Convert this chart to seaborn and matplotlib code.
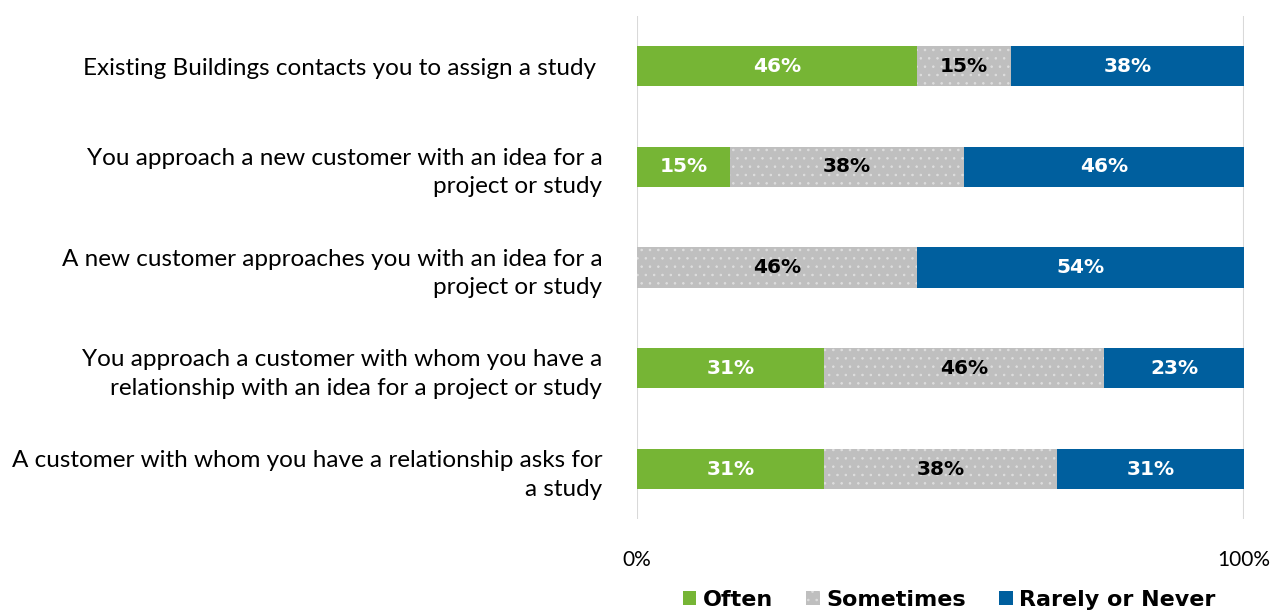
import matplotlib
matplotlib.use("Agg")
import matplotlib.pyplot as plt
import seaborn as sns
import pandas as pd
from matplotlib.patches import Patch

# Survey of 13 respondents; shares in percent
categories = [
    "Existing Buildings contacts you to assign a study ",
    "You approach a new customer with an idea for a\nproject or study",
    "A new customer approaches you with an idea for a\nproject or study",
    "You approach a customer with whom you have a\nrelationship with an idea for a project or study",
    "A customer with whom you have a relationship asks for\na study",
]
often = [46.15, 15.38, 0.0, 30.77, 30.77]
sometimes = [15.38, 38.46, 46.15, 46.15, 38.46]
rarely = [38.46, 46.15, 53.85, 23.08, 30.77]
series_names = ["Often", "Sometimes", "Rarely or Never"]
x_ticks = [0, 100]
x_tick_labels = ["0%", "100%"]

GREEN = "#76B535"
GRAY = "#BFBFBF"
DOTS = "#DEDEDE"
BLUE = "#005F9E"
BOLD_FONT = ["DejaVu Sans"]

sns.set_theme(style="white")
plt.rcParams["font.family"] = ["Lato", "DejaVu Sans"]
plt.rcParams["hatch.linewidth"] = 0.6

df = pd.DataFrame({"cat": categories, "Often": often,
                   "Sometimes": sometimes, "Rarely": rarely})
df["c1"] = df["Often"]
df["c2"] = df["Often"] + df["Sometimes"]
df["c3"] = df["c2"] + df["Rarely"]

fig = plt.figure(figsize=(12.74, 6.13), dpi=100)
ax = fig.add_axes([0.5, 0.1527, 0.4765, 0.8218])

bw = 0.4
# stacked: draw cumulative totals from the outside in
sns.barplot(data=df, y="cat", x="c3", color=BLUE, orient="h", width=bw,
            saturation=1, ax=ax, linewidth=0)
sns.barplot(data=df, y="cat", x="c2", color=GRAY, orient="h", width=bw,
            saturation=1, ax=ax, linewidth=0)
n = len(categories)
for p in ax.patches[n:2 * n]:
    p.set_hatch("..")
    p.set_edgecolor(DOTS)
    p.set_linewidth(0)
sns.barplot(data=df, y="cat", x="c1", color=GREEN, orient="h", width=bw,
            saturation=1, ax=ax, linewidth=0)

# segment value labels
for i in range(n):
    segs = [(0, often[i], "white"),
            (often[i], sometimes[i], "black"),
            (often[i] + sometimes[i], rarely[i], "white")]
    for start, val, col in segs:
        if val <= 0:
            continue
        ax.text(start + val / 2, i, f"{val:.0f}%", ha="center", va="center",
                color=col, fontsize=14.5, fontweight="bold", family=BOLD_FONT)

ax.set_xlim(0, 100)
ax.set_ylim(n - 0.5, -0.5)
ax.axvline(0, color="#D9D9D9", lw=1.5, zorder=0)
ax.axvline(100, color="#D9D9D9", lw=1.5, zorder=0)
for s in ax.spines.values():
    s.set_visible(False)
ax.set_xticks(x_ticks)
ax.set_xticklabels(x_tick_labels, fontsize=15)
ax.set_xlabel("")
ax.set_ylabel("")
ax.tick_params(axis="x", length=0, pad=22, colors="black")
ax.tick_params(axis="y", length=0, pad=25, labelsize=17.5, colors="black")
for lab in ax.get_yticklabels():
    lab.set_multialignment("right")
    lab.set_linespacing(1.45)

handles = [Patch(facecolor=GREEN, edgecolor="none"),
           Patch(facecolor=GRAY, edgecolor=DOTS, hatch="..", linewidth=0),
           Patch(facecolor=BLUE, edgecolor="none")]
leg = fig.legend(handles, series_names, loc="center", ncol=3,
                 bbox_to_anchor=(0.745, 0.022), frameon=False,
                 prop={"weight": "bold", "size": 16, "family": BOLD_FONT},
                 labelcolor="black",
                 handlelength=0.6, handleheight=0.6, handletextpad=0.3,
                 columnspacing=1.5)

fig.savefig("out.png", dpi=100)
